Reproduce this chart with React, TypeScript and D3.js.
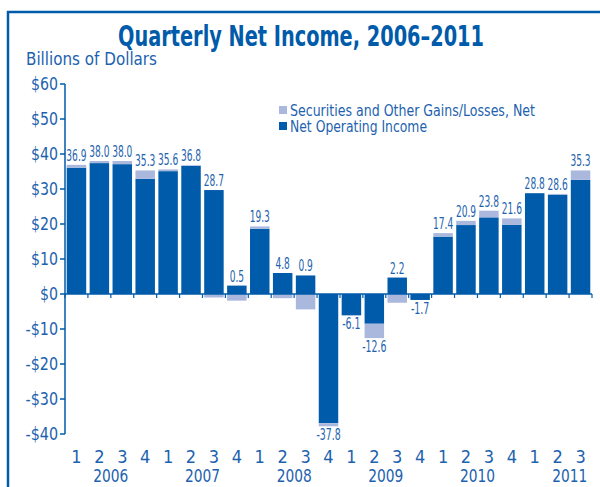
import React from 'react';
import { scaleBand, scaleLinear, stack, stackOffsetDiverging, range } from 'd3';

const quarterLabels = ['1', '2', '3', '4', '1', '2', '3', '4', '1', '2', '3', '4', '1', '2', '3', '4', '1', '2', '3', '4', '1', '2', '3'];
const years = ['2006', '2007', '2008', '2009', '2010', '2011'];
const netOperatingIncome = [36.1, 37.4, 37.1, 32.9, 35.1, 36.6, 29.7, 2.4, 18.6, 6.0, 5.3, -36.9, -6.1, -8.5, 4.7, -1.7, 16.4, 19.7, 21.9, 19.8, 28.8, 28.3, 32.6];
const securitiesGains = [0.8, 0.6, 0.9, 2.4, 0.5, 0.2, -1.0, -1.9, 0.7, -1.2, -4.4, -0.9, 0, -4.1, -2.5, 0, 1.0, 1.2, 1.9, 1.8, 0, 0.3, 2.7];
const netIncome = [36.9, 38.0, 38.0, 35.3, 35.6, 36.8, 28.7, 0.5, 19.3, 4.8, 0.9, -37.8, -6.1, -12.6, 2.2, -1.7, 17.4, 20.9, 23.8, 21.6, 28.8, 28.6, 35.3];
const yTicks = [60, 50, 40, 30, 20, 10, 0, -10, -20, -30, -40];

const DARK = '#005baa';
const LIGHT = '#abb8de';
const TEXT = '#1d62ae';
const FONT = "'Liberation Sans Narrow', 'DejaVu Sans Condensed', 'Arial Narrow', sans-serif";

// rough width of a narrow-font number label
function labelWidth(s: string, digit: number, dot: number, minus: number, dollar: number) {
    let w = 0;
    for (let c of s) {
        if (c == '.') w += dot;
        else if (c == '-') w += minus;
        else if (c == '$') w += dollar;
        else w += digit;
    }
    return w;
}

const App = () => {
    const margin = { left: 65, right: 592, top: 84, bottom: 434 };

    const x = scaleBand<number>().domain(range(netIncome.length)).range([margin.left, margin.right]).paddingInner(0.15).paddingOuter(0.075);
    const y = scaleLinear().domain([-40, 60]).range([margin.bottom, margin.top]);

    const rows = netIncome.map((d, i) => ({ i, noi: netOperatingIncome[i], sec: securitiesGains[i] }));
    const series = stack<any>().keys(['noi', 'sec']).offset(stackOffsetDiverging)(rows);

    const step = x.step();
    const boundaries = range(netIncome.length + 1).map(i => margin.left + i * step);

    return (
        <svg width={600} height={487} style={{ position: 'absolute', left: 0, top: 0, display: 'block' }} fontFamily={FONT}>
            <rect width={600} height={487} fill="white" />
            <line x1={8} x2={8} y1={11} y2={487} stroke={DARK} strokeWidth={2.5} />
            <line x1={7} x2={600} y1={12} y2={12} stroke={DARK} strokeWidth={2.5} />

            <text x={301} y={46} textAnchor="middle" fontSize={28} fontWeight="bold" fill={DARK} textLength={366} lengthAdjust="spacingAndGlyphs">Quarterly Net Income, 2006–2011</text>
            <text x={26} y={65} fontSize={18} fill={TEXT} textLength={131} lengthAdjust="spacingAndGlyphs">Billions of Dollars</text>

            {/* legend */}
            <rect x={279} y={106} width={8} height={8} fill={LIGHT} />
            <text x={290} y={116} fontSize={15} fill={TEXT} textLength={245} lengthAdjust="spacingAndGlyphs">Securities and Other Gains/Losses, Net</text>
            <rect x={279} y={122} width={8} height={8} fill={DARK} />
            <text x={290} y={132} fontSize={15} fill={TEXT} textLength={137} lengthAdjust="spacingAndGlyphs">Net Operating Income</text>

            {/* bars */}
            {series.map((s, si) => (
                <g key={si} fill={si === 0 ? DARK : LIGHT}>
                    {s.map((d, i) => (
                        <rect key={i} x={x(i)} y={y(Math.max(d[0], d[1]))} width={x.bandwidth()} height={Math.abs(y(d[0]) - y(d[1]))} />
                    ))}
                </g>
            ))}

            {/* value labels */}
            {netIncome.map((v, i) => {
                let top = Math.max(0, ...series.map(s => Math.max(s[i][0], s[i][1])));
                let bottom = Math.min(0, ...series.map(s => Math.min(s[i][0], s[i][1])));
                let ty = v >= 0 ? y(top) - 4 : y(bottom) + 14;
                let str = v.toFixed(1);
                return (
                    <text key={i} x={(x(i) as number) + x.bandwidth() / 2} y={ty} textAnchor="middle" fontSize={16} fill={TEXT}
                        textLength={labelWidth(str, 5.8, 2.8, 4, 0)} lengthAdjust="spacingAndGlyphs">{str}</text>
                )
            })}

            {/* y axis */}
            <line x1={margin.left} x2={margin.left} y1={y(60)} y2={y(-40)} stroke={DARK} strokeWidth={1.5} />
            {yTicks.map((t, i) => {
                let str = (t < 0 ? '-$' : '$') + Math.abs(t);
                return (
                    <g key={i} transform={`translate(${margin.left},${y(t)})`}>
                        <line x1={-5} x2={0} stroke={DARK} strokeWidth={1.5} />
                        <text x={-7} dy="0.36em" textAnchor="end" fontSize={18} fill={TEXT}
                            textLength={labelWidth(str, 9, 3, 5.5, 9)} lengthAdjust="spacingAndGlyphs">{str}</text>
                    </g>
                )
            })}

            {/* x axis */}
            <line x1={margin.left} x2={margin.right} y1={y(0)} y2={y(0)} stroke={DARK} strokeWidth={1.5} />
            {boundaries.map((bx, i) => (
                <line key={i} x1={bx} x2={bx} y1={y(0)} y2={y(0) + 4} stroke={DARK} strokeWidth={1.2} />
            ))}
            {quarterLabels.map((q, i) => (
                <text key={i} x={(x(i) as number) + x.bandwidth() / 2} y={463} textAnchor="middle" fontSize={18} fill={TEXT}>{q}</text>
            ))}
            {years.map((yr, yi) => {
                let idx = range(yi * 4, Math.min(yi * 4 + 4, netIncome.length));
                let cx = idx.reduce((a, i) => a + (x(i) as number) + x.bandwidth() / 2, 0) / idx.length;
                cx = Math.min(cx + (idx.length < 4 ? 12 : 0), 571);
                return <text key={yi} x={cx} y={482} textAnchor="middle" fontSize={18} fill={TEXT} textLength={35} lengthAdjust="spacingAndGlyphs">{yr}</text>
            })}
        </svg>
    )
}

export default App;
